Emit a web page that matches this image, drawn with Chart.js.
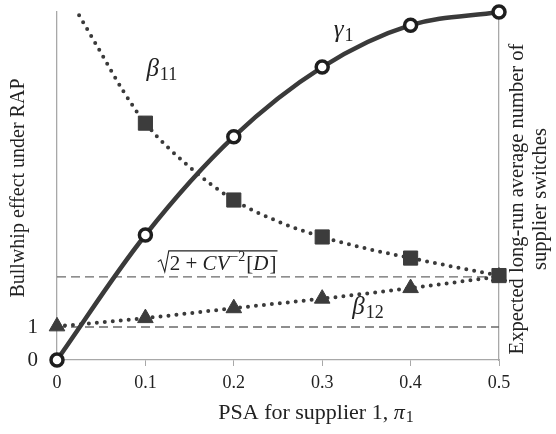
<!DOCTYPE html>
<html>
<head>
<meta charset="utf-8">
<script src="https://cdn.jsdelivr.net/npm/chart.js@4.4.0/dist/chart.umd.min.js"></script>
<style>
  html, body { margin: 0; padding: 0; background: #fff; }
  #wrap { width: 556px; height: 434px; }
</style>
</head>
<body>
<div id="wrap"><canvas id="myChart"></canvas></div>
<script>
// data
const psa = [0, 0.1, 0.2, 0.3, 0.4, 0.5];
const gamma1 = [0, 3.79, 6.77, 8.88, 10.15, 10.55];
const beta12 = [1.02, 1.27, 1.57, 1.86, 2.18, 2.53];
const beta11X = [0.025, 0.05, 0.075, 0.1, 0.15, 0.2, 0.25, 0.3, 0.35, 0.4, 0.45, 0.5];
const beta11 = [10.45, 9.3, 8.15, 7.18, 5.85, 4.85, 4.2, 3.73, 3.38, 3.09, 2.82, 2.56];
const refX = [0, 0.5];
const sqrtLevel = 2.52;
const oneLevel = 1;
const leftTicks = [0, 1];

const ink = "#3a3a3a";
const axisGrey = "#a8a8a8";
const serif = '"Liberation Serif", "Times New Roman", serif';

const pts = (xs, ys) => xs.map((x, i) => ({ x: x, y: ys[i] }));
const onTenth = (v) => Math.abs(v * 10 - Math.round(v * 10)) < 1e-6;

// keep the plot box where the figure has it
function fixBox(size) {
  return (s) => {
    if (s.isHorizontal()) s.height = size; else s.width = size;
    s.paddingTop = 0;
    s.paddingBottom = 0;
    s.paddingLeft = 0;
    s.paddingRight = 0;
  };
}

// text labels, axis titles and the sqrt annotation
const labels = {
  id: "labels",
  afterDraw(chart) {
    const c = chart.ctx;
    const xs = chart.scales.x;
    const ys = chart.scales.y;
    c.save();
    c.fillStyle = "#222";
    c.textBaseline = "alphabetic";

    function sym(main, sub, px, py) {
      c.textAlign = "left";
      c.font = "italic 25px " + serif;
      c.fillText(main, px, py);
      const w = c.measureText(main).width;
      c.font = "18px " + serif;
      c.fillText(sub, px + w + 1, py + 4);
    }
    sym("β", "11", xs.getPixelForValue(0.1) + 1, ys.getPixelForValue(8.6));
    sym("γ", "1", xs.getPixelForValue(0.313), ys.getPixelForValue(9.8));
    sym("β", "12", xs.getPixelForValue(0.334), ys.getPixelForValue(1.4));

    // sqrt(2 + CV^-2[D])
    const sx = xs.getPixelForValue(0.114);
    const sb = ys.getPixelForValue(sqrtLevel) - 7;
    c.font = "21px " + serif;
    c.textAlign = "left";
    let x = sx + 12;
    c.fillText("2 + ", x, sb);
    x += c.measureText("2 + ").width;
    c.font = "italic 21px " + serif;
    c.fillText("CV", x, sb);
    x += c.measureText("CV").width + 1;
    c.font = "14px " + serif;
    c.fillText("−2", x, sb - 9);
    x += c.measureText("−2").width + 1;
    c.font = "21px " + serif;
    c.fillText("[", x, sb);
    x += c.measureText("[").width;
    c.font = "italic 21px " + serif;
    c.fillText("D", x, sb);
    x += c.measureText("D").width + 1;
    c.font = "21px " + serif;
    c.fillText("]", x, sb);
    x += c.measureText("]").width;
    c.strokeStyle = "#222";
    c.lineWidth = 1.1;
    c.beginPath();
    c.moveTo(sx, sb - 8);
    c.lineTo(sx + 3, sb - 10);
    c.lineTo(sx + 7, sb + 2);
    c.lineTo(sx + 11, sb - 19);
    c.lineTo(x + 1, sb - 19);
    c.stroke();

    // axis titles
    c.font = "20px " + serif;
    c.textAlign = "center";
    c.textBaseline = "middle";
    c.save();
    c.translate(19, 188);
    c.rotate(-Math.PI / 2);
    c.fillText("Bullwhip effect under RAP", 0, 0);
    c.restore();

    c.font = "20.5px " + serif;
    c.save();
    c.translate(518, 199);
    c.rotate(-Math.PI / 2);
    c.fillText("Expected long-run average number of", 0, 0);
    c.fillText("supplier switches", 0, 23);
    c.restore();

    // x title: PSA for supplier 1, pi_1
    c.textBaseline = "alphabetic";
    c.textAlign = "left";
    const part1 = "PSA for supplier 1, ";
    c.font = "22px " + serif;
    const w1 = c.measureText(part1).width;
    c.font = "italic 22px " + serif;
    const w2 = c.measureText("π").width;
    c.font = "16px " + serif;
    const w3 = c.measureText("1").width;
    let tx = 316 - (w1 + w2 + w3 + 1) / 2;
    c.font = "22px " + serif;
    c.fillText(part1, tx, 419);
    tx += w1;
    c.font = "italic 22px " + serif;
    c.fillText("π", tx, 419);
    tx += w2 + 1;
    c.font = "16px " + serif;
    c.fillText("1", tx, 422);
    c.restore();
  },
};

const myChart = new Chart("myChart", {
  type: "scatter",
  data: {
    datasets: [
      {
        label: "gamma1",
        data: pts(psa, gamma1),
        showLine: true,
        borderColor: ink,
        borderWidth: 4.5,
        tension: 0.35,
        pointStyle: "circle",
        pointRadius: 6,
        pointBorderWidth: 3.5,
        pointBorderColor: "#1e1e1e",
        pointBackgroundColor: "#ffffff",
        clip: false,
      },
      {
        label: "beta11",
        data: pts(beta11X, beta11),
        showLine: true,
        borderColor: ink,
        borderWidth: 4,
        borderDash: [0, 8],
        borderCapStyle: "round",
        cubicInterpolationMode: "monotone",
        pointStyle: "rect",
        pointRadius: (ctx) => (onTenth(ctx.raw.x) ? 10 : 0),
        pointBackgroundColor: "#3c3c3c",
        pointBorderColor: "#3c3c3c",
        pointBorderWidth: 1,
        clip: false,
      },
      {
        label: "beta12",
        data: pts(psa, beta12),
        showLine: true,
        borderColor: ink,
        borderWidth: 4,
        borderDash: [0, 8],
        borderCapStyle: "round",
        cubicInterpolationMode: "monotone",
        pointStyle: "triangle",
        pointRadius: 9,
        pointBackgroundColor: "#3c3c3c",
        pointBorderColor: "#3c3c3c",
        pointBorderWidth: 1,
        clip: false,
      },
      {
        label: "sqrt",
        data: refX.map((x) => ({ x: x, y: sqrtLevel })),
        showLine: true,
        borderColor: "#6a6a6a",
        borderWidth: 1.4,
        borderDash: [9, 5],
        pointRadius: 0,
        clip: false,
      },
      {
        label: "one",
        data: refX.map((x) => ({ x: x, y: oneLevel })),
        showLine: true,
        borderColor: "#6a6a6a",
        borderWidth: 1.4,
        borderDash: [9, 5],
        pointRadius: 0,
        clip: false,
      },
    ],
  },
  options: {
    responsive: true,
    maintainAspectRatio: false,
    animation: false,
    layout: { padding: { top: 12 } },
    scales: {
      x: {
        type: "linear",
        min: 0,
        max: 0.5,
        afterFit: fixBox(74),
        afterBuildTicks: (s) => { s.ticks = psa.map((v) => ({ value: v })); },
        border: { color: axisGrey, width: 1.3 },
        grid: { drawOnChartArea: false, drawTicks: true, tickLength: 6, color: axisGrey },
        ticks: {
          padding: 6,
          color: "#222",
          font: { family: serif, size: 18 },
          callback: (v) => (v === 0 ? "0" : v.toFixed(1)),
        },
      },
      y: {
        min: 0,
        max: 10.55,
        afterFit: fixBox(57),
        afterBuildTicks: (s) => { s.ticks = leftTicks.map((v) => ({ value: v })); },
        border: { color: axisGrey, width: 1.3 },
        grid: { display: false, drawTicks: false },
        ticks: {
          padding: 19,
          color: "#222",
          font: { family: serif, size: 21 },
        },
      },
      y2: {
        position: "right",
        min: 0,
        max: 10.55,
        afterFit: fixBox(57),
        border: { color: axisGrey, width: 1.3 },
        grid: { display: false, drawTicks: false },
        ticks: { display: false },
      },
    },
    plugins: {
      legend: { display: false },
      tooltip: { enabled: false },
    },
  },
  plugins: [labels],
});
</script>
</body>
</html>
